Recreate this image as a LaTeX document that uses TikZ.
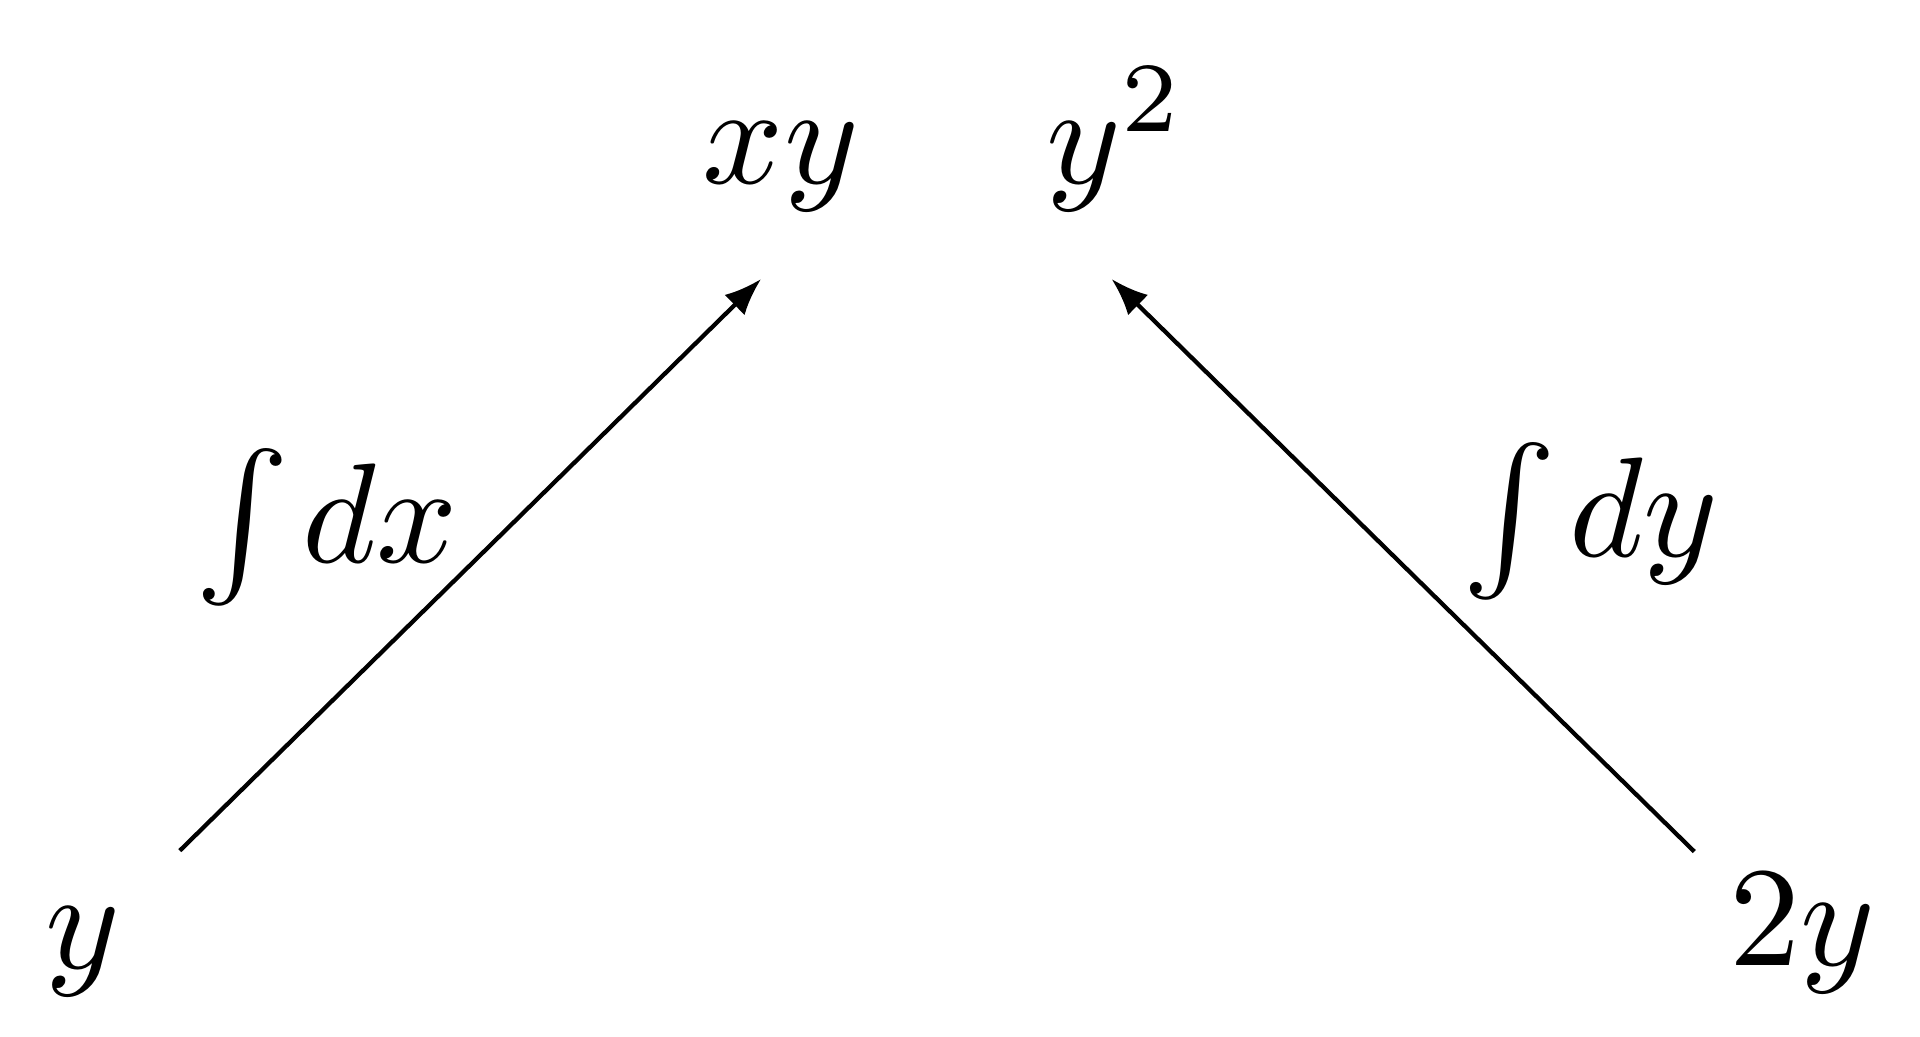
\documentclass[tikz,border=0pt]{standalone}
\usetikzlibrary{arrows.meta}
\begin{document}
\begin{tikzpicture}[x=1pt,y=1pt,>={Latex[length=2.6pt,width=2pt]}]
% Styles
\tikzstyle{term}=[inner sep=0pt,anchor=base west]
\tikzstyle{integral}=[inner sep=0pt,anchor=base west]
\tikzstyle{map}=[->,line width=0.3pt]

\useasboundingbox (0,0) rectangle (135.2,-73);

% draw the nodes
\node[term] (xy) at (49.3,-12.9) {$xy$};
\node[term] (ysq) at (73.5,-12.9) {$y^2$};
\node[term] (y) at (3.0,-68.2) {$y$};
\node[term] (twoy) at (121.6,-68.0) {$2y$};

%arrows
\draw[map] ([shift={(4pt,3.8pt)}]y.north east) -- ([shift={(-1.4pt,-4.6pt)}]xy.south);
\draw[map] ([shift={(-2.3pt,1.4pt)}]twoy.north west) -- ([shift={(-0.3pt,-4.6pt)}]ysq.south);

%labels
\node[integral] (intdx) at (13.6,-39.6) {$\int\mkern-1.5mu dx$};
\node[integral] (intdy) at (102.8,-39.2) {$\int\mkern-1.5mu dy$};

\end{tikzpicture}
\end{document}
